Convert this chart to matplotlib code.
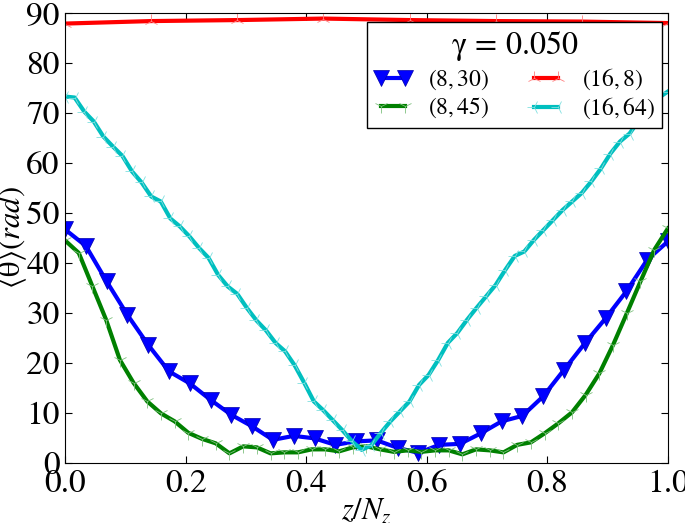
import numpy as np
import matplotlib
matplotlib.use('Agg')
import matplotlib.pyplot as plt


# Data ========================================================
theta_8_30 = [46.7, 43.4, 36.3, 29.6, 23.6, 18.3, 15.9, 12.6, 9.6, 7.3,
              4.6, 5.4, 4.9, 3.6, 4.3, 4.5, 3.0, 2.0, 3.6, 3.8,
              5.9, 8.3, 9.4, 13.3, 18.6, 23.9, 28.9, 34.3, 40.6, 44.3]

theta_8_45 = [44.5, 42.0, 35.3, 28.6, 20.6, 16.0, 12.3, 9.9, 8.3, 6.0,
              4.8, 3.9, 1.9, 3.3, 3.1, 1.9, 2.1, 2.1, 2.7, 2.7,
              2.3, 3.1, 3.3, 2.7, 2.2, 2.5, 2.2, 2.5, 2.5, 1.7,
              2.7, 2.5, 2.1, 3.6, 4.1, 5.9, 7.9, 10.1, 13.6, 17.9,
              23.6, 29.9, 36.3, 42.6, 46.9]

theta_16_8 = [87.9, 88.4, 88.6, 88.9, 88.6, 88.4, 88.3, 88.0]

theta_16_64 = [73.3, 73.1, 70.3, 68.3, 65.3, 63.3, 61.4, 58.3, 56.1, 53.3,
               52.3, 48.9, 47.3, 45.3, 43.0, 41.0, 37.6, 35.3, 33.8, 31.0,
               28.5, 26.5, 24.0, 22.3, 19.5, 16.0, 12.3, 10.5, 8.5, 6.5,
               4.3, 2.6, 3.5, 6.0, 8.3, 10.3, 12.3, 15.6, 17.6, 20.6,
               24.0, 26.0, 28.6, 31.0, 33.3, 35.6, 38.6, 41.4, 42.3, 44.6,
               46.6, 48.6, 50.6, 52.3, 54.0, 56.3, 58.9, 61.9, 64.3, 65.9,
               68.6, 71.0, 73.0, 74.3]

labels = ['$(8,30)$', '$(8,45)$', '$(16,8)$', '$(16,64)$']

# Style =====================================================
plt.rcParams['font.family'] = 'STIXGeneral'
plt.rcParams['mathtext.fontset'] = 'stix'
plt.rcParams['xtick.direction'] = 'in'
plt.rcParams['ytick.direction'] = 'in'
plt.rcParams['xtick.top'] = True
plt.rcParams['ytick.right'] = True
plt.rcParams['xtick.major.size'] = 5
plt.rcParams['ytick.major.size'] = 5
plt.rcParams['xtick.major.pad'] = 5
plt.rcParams['ytick.major.pad'] = 4

fig = plt.figure(figsize=(6.85, 5.23), dpi=100)
ax = fig.add_axes([0.095, 0.115, 0.88, 0.86])


def zgrid(vals):
    return np.linspace(0, 1, len(vals))


ax.plot(zgrid(theta_8_30), theta_8_30, color='b', lw=3, marker='v',
        markersize=11, markeredgecolor='#0000aa', markeredgewidth=0.5,
        label=labels[0])
ax.plot(zgrid(theta_8_45), theta_8_45, color='g', lw=3, marker='1',
        markersize=10, markeredgewidth=0.6, markeredgecolor='#7fc07f',
        label=labels[1])
ax.plot(zgrid(theta_16_8), theta_16_8, color='r', lw=3, marker='2',
        markersize=10, markeredgewidth=0.6, markeredgecolor='#ff7f7f',
        label=labels[2])
ax.plot(zgrid(theta_16_64), theta_16_64, color='c', lw=3, marker='3',
        markersize=10, markeredgewidth=0.6, markeredgecolor='#7fdfdf',
        label=labels[3])

ax.set_xlim(0, 1)
ax.set_ylim(0, 90)
ax.set_xticks(np.arange(0, 1.01, 0.2))
ax.set_yticks(np.arange(0, 91, 10))
ax.tick_params(labelsize=24)
ax.set_xlabel('$z/N_z$', fontsize=22)
ax.xaxis.set_label_coords(0.5, -0.075)
ax.set_ylabel(r'$\langle\mathrm{\theta}\rangle(rad)$', fontsize=22)
ax.yaxis.set_label_coords(-0.06, 0.5)

leg = ax.legend(loc='upper right', bbox_to_anchor=(0.99, 0.98),
                borderaxespad=0, ncol=2, numpoints=2, fontsize=17,
                title=r'$\mathrm{\gamma}\,=\,0.050$', title_fontsize=23,
                fancybox=False, framealpha=1, edgecolor='black',
                handlelength=1.6, columnspacing=1.6, handletextpad=0.7,
                labelspacing=0.15, borderpad=0.3)
leg.get_frame().set_linewidth(1.0)

fig.savefig('out.png', dpi=100, facecolor='white')
